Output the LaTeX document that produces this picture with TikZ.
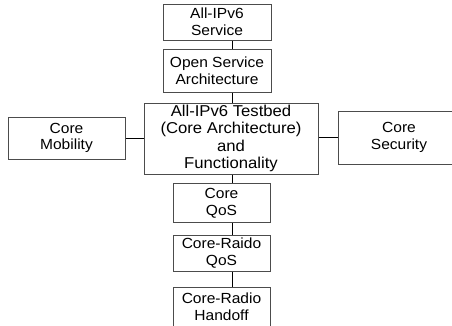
\documentclass[tikz,border=0pt]{standalone}
\usepackage{fontspec}
\setmainfont[FakeStretch=1.06]{Liberation Sans}
\usetikzlibrary{positioning}
\begin{document}
\begin{tikzpicture}[x=0.75pt, y=-0.75pt, line width=0.75pt,
 blk/.style={draw=black!70, rectangle, fill=white, align=center, inner sep=0pt, font=\fontsize{11}{12.5}\selectfont},
 big/.style={blk, font=\fontsize{11.8}{13}\selectfont},
 link/.style={draw=black}]
\useasboundingbox (0,0) rectangle (452,325);
\clip (0,0) rectangle (452,325);
\coordinate (spine) at (232,0);
\node[blk, minimum width=81pt, minimum height=27pt]      (svc)  at (217,22)    {All-IPv6\\Service};
\node[blk, minimum width=81pt, minimum height=32.25pt]   (osa)  at (217,70.5)  {Open Service\\Architecture};
\node[big, minimum width=130.5pt, minimum height=53.25pt] (tb)  at (231,138.5) {All-IPv6 Testbed\\(Core Architecture)\\and\\Functionality};
\node[blk, minimum width=87.75pt, minimum height=31.5pt] (mob)  at (66.5,138)  {Core\\Mobility};
\node[blk, minimum width=91.5pt, minimum height=39.75pt] (sec)  at (399,137.5) {Core\\Security};
\node[blk, minimum width=72.75pt, minimum height=29.25pt] (qos) at (221.5,203)  {Core\\QoS};
\node[blk, minimum width=72.75pt, minimum height=27pt]   (rqos) at (221.5,253)  {Core-Raido\\QoS};
\node[blk, minimum width=72.75pt, minimum height=29.25pt] (hof) at (221.5,306.5) {Core-Radio\\Handoff};
\foreach \a/\b in {svc/osa, osa/tb, tb/qos, qos/rqos, rqos/hof}
  \draw[link] (\a.south -| spine) -- (\b.north -| spine);
\draw[link] (mob.east) -- (mob.east -| tb.west);
\draw[link] (sec.west -| tb.east) -- (sec.west);
\end{tikzpicture}
\end{document}
